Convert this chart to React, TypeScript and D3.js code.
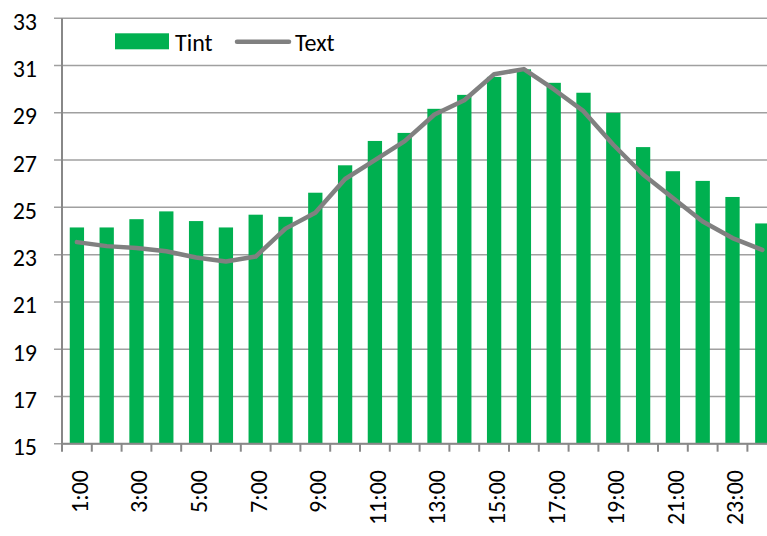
import React from "react";
import * as d3 from "d3";

const hours = [
  "1:00", "2:00", "3:00", "4:00", "5:00", "6:00", "7:00", "8:00",
  "9:00", "10:00", "11:00", "12:00", "13:00", "14:00", "15:00", "16:00",
  "17:00", "18:00", "19:00", "20:00", "21:00", "22:00", "23:00", "24:00"
];
const tint = [
  24.15, 24.15, 24.5, 24.83, 24.42, 24.15, 24.69, 24.6,
  25.62, 26.78, 27.81, 28.15, 29.17, 29.76, 30.52, 30.84,
  30.27, 29.85, 29.0, 27.55, 26.53, 26.12, 25.44, 24.32
];
const text = [
  23.53, 23.36, 23.28, 23.14, 22.88, 22.71, 22.92, 24.1,
  24.77, 26.2, 27.0, 27.8, 28.93, 29.53, 30.63, 30.85,
  30.0, 29.07, 27.65, 26.39, 25.4, 24.4, 23.7, 23.2
];
const yTicks = [15, 17, 19, 21, 23, 25, 27, 29, 31, 33];

const width = 767;
const height = 536;
const margin = { left: 62, top: 18.3, bottom: 443.7 };
const step = 29.8;
const font = "Carlito, Calibri, Lato, sans-serif";

const App = () => {
  const xScale = d3
    .scaleBand<string>()
    .domain(hours)
    .range([margin.left, margin.left + hours.length * step])
    .paddingInner(0.52)
    .paddingOuter(0.26);
  const yScale = d3.scaleLinear().domain([15, 33]).range([margin.bottom, margin.top]);

  const center = (h: string) => (xScale(h) as number) + xScale.bandwidth() / 2;
  const line = d3
    .line<number>()
    .x((_, i) => center(hours[i]))
    .y(d => yScale(d));

  const right = margin.left + hours.length * step;

  return (
    <svg
      width={width}
      height={height}
      style={{ position: "absolute", left: 0, top: 0, background: "#fff" }}
    >
      {/* gridlines */}
      {yTicks.map(t => (
        <line
          key={"g" + t}
          x1={margin.left - 8}
          x2={right}
          y1={yScale(t)}
          y2={yScale(t)}
          stroke="#a0a0a0"
          strokeWidth={1.5}
        />
      ))}
      {yTicks.map(t => (
        <text
          key={"l" + t}
          x={37}
          y={yScale(t) + 3}
          dy="0.35em"
          textAnchor="end"
          fontFamily={font}
          fontSize={24}
          fill="#000"
        >
          {t}
        </text>
      ))}

      {/* bars */}
      {hours.map((h, i) => (
        <rect
          key={"b" + h}
          x={xScale(h)}
          y={yScale(tint[i])}
          width={xScale.bandwidth()}
          height={margin.bottom - yScale(tint[i])}
          fill="#00b050"
        />
      ))}

      {/* axes */}
      <line x1={margin.left} x2={margin.left} y1={margin.top} y2={margin.bottom + 8} stroke="#888" strokeWidth={2} />
      <line x1={margin.left} x2={right} y1={margin.bottom} y2={margin.bottom} stroke="#888" strokeWidth={2} />
      {hours.map((h, i) => {
        const x = margin.left + (i + 1) * step;
        return <line key={"t" + h} x1={x} x2={x} y1={margin.bottom} y2={margin.bottom + 8} stroke="#888" strokeWidth={2} />;
      })}
      {hours.map((h, i) =>
        i % 2 === 0 ? (
          <text
            key={"x" + h}
            transform={`translate(${center(h) + 2.5},470) rotate(-90)`}
            dy="0.35em"
            textAnchor="end"
            fontFamily={font}
            fontSize={24}
            fill="#000"
          >
            {h}
          </text>
        ) : null
      )}

      {/* line series */}
      <path
        d={line(text) as string}
        fill="none"
        stroke="#808080"
        strokeWidth={4.5}
        strokeLinejoin="round"
        strokeLinecap="round"
      />

      {/* legend */}
      <rect x={115} y={33.3} width={54} height={16} fill="#00b050" />
      <text x={175} y={51} fontFamily={font} fontSize={24} fill="#000">Tint</text>
      <line x1={237} x2={289} y1={41.7} y2={41.7} stroke="#808080" strokeWidth={4.5} strokeLinecap="round" />
      <text x={295} y={51} fontFamily={font} fontSize={24} fill="#000">Text</text>
    </svg>
  );
};

export default App;
